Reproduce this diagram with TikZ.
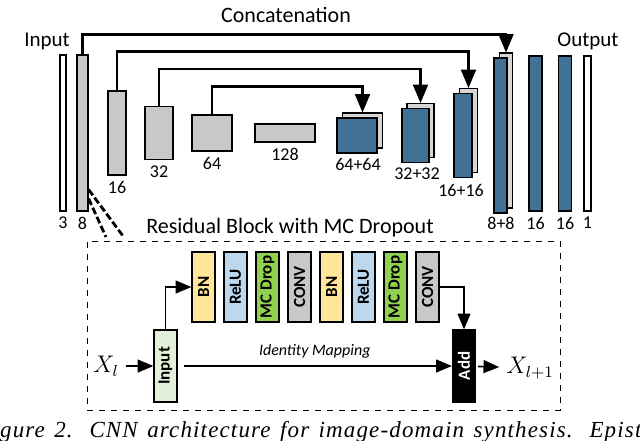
\documentclass[tikz,border=0pt]{standalone}
\usepackage{fontspec}
\setmainfont{Carlito}
\newfontfamily\capfont[LetterSpace=5]{Liberation Serif}
\usetikzlibrary{arrows}
\usetikzlibrary{positioning}
\usetikzlibrary{calc}

\definecolor{bargray}{RGB}{200,200,200}
\definecolor{backgray}{RGB}{214,214,214}
\definecolor{unetblue}{RGB}{66,113,150}
\definecolor{bnyellow}{RGB}{255,230,153}
\definecolor{relublue}{RGB}{189,215,238}
\definecolor{dropgreen}{RGB}{146,208,80}
\definecolor{convgray}{RGB}{200,200,200}
\definecolor{inputgreen}{RGB}{226,240,217}

\begin{document}
\begin{tikzpicture}[x=0.5pt,y=-0.5pt]
    	\tikzstyle{bar} = [draw, line width=0.6pt, fill=bargray, inner sep=0pt]
    	\tikzstyle{bluebar} = [bar, fill=unetblue]
    	\tikzstyle{backbar} = [bar, fill=backgray]
    	\tikzstyle{num} = [inner sep=0.5pt, font=\fontsize{9}{10}\selectfont]
    	\tikzstyle{concat} = [line width=1.1pt, -triangle 45]
    	\tikzstyle{blk} = 
    	[draw,
    	line width=0.7pt,
    	rotate=90,
    	minimum width=35pt,
    	minimum height=11.5pt,
    	inner sep=0pt,
    	font=\bfseries\fontsize{8.5}{9}\selectfont]
    	\tikzstyle{flow} = [line width=0.8pt, -triangle 45]
    	\tikzstyle{wedge} = [line width=1.4pt, dash pattern=on 3.5pt off 1.5pt]

        \useasboundingbox (0,0) rectangle (640,440);

        % encoder
        \node[bar, fill=white, minimum width=3pt, minimum height=78pt] (in3) at (63,133) {};
        \node[bar, minimum width=5.5pt, minimum height=78pt] (b8) at (82.5,133) {};
        \node[bar, minimum width=9pt, minimum height=42pt] (b16) at (117,133) {};
        \node[bar, minimum width=14pt, minimum height=26.5pt] (b32) at (159,133) {};
        \node[bar, minimum width=20pt, minimum height=18pt] (b64) at (212,133) {};
        \node[bar, minimum width=30pt, minimum height=9pt] (b128) at (285,133) {};

        % decoder
        \node[backbar, minimum width=20pt, minimum height=17.5pt] (d64b) at (362.5,130.5) {};
        \node[bluebar, minimum width=20pt, minimum height=17.5pt] (d64) at (357,135.5) {};
        \node[backbar, minimum width=13.5pt, minimum height=27pt] (d32b) at (420.5,130.5) {};
        \node[bluebar, minimum width=13.5pt, minimum height=27pt] (d32) at (415.5,135.5) {};
        \node[backbar, minimum width=9pt, minimum height=42pt] (d16b) at (468.5,130.5) {};
        \node[bluebar, minimum width=9pt, minimum height=42pt] (d16) at (463,135.5) {};
        \node[backbar, minimum width=6.5pt, minimum height=77.5pt] (d8b) at (506,130.5) {};
        \node[bluebar, minimum width=6.5pt, minimum height=77.5pt] (d8) at (500.5,135.5) {};
        \node[bluebar, minimum width=6.5pt, minimum height=77.5pt] (o16a) at (535.5,133.5) {};
        \node[bluebar, minimum width=6.5pt, minimum height=77.5pt] (o16b) at (565,133.5) {};
        \node[bar, fill=white, minimum width=3.5pt, minimum height=77.5pt] (out1) at (587.5,133.5) {};

        % channel numbers
        \node[num, below=2pt of in3] (n3) {3};
        \node[num, below=2pt of b8] (n8) {8};
        \node[num, below=2pt of b16] (n16) {16};
        \node[num, below=2pt of b32] (n32) {32};
        \node[num, below=2pt of b64] (n64) {64};
        \node[num, below=2pt of b128] (n128) {128};
        \node[num] (nd64) at (358,164) {64+64};
        \node[num] (nd32) at (417,174) {32+32};
        \node[num] (nd16) at (461,190) {16+16};
        \node[num] (nd8) at (501,223) {8+8};
        \node[num] (no16a) at (535.5,223) {16};
        \node[num] (no16b) at (565,223) {16};
        \node[num] (no1) at (587.5,223) {1};

        \node[font=\fontsize{10.5}{12}\selectfont] (inlbl) at (47,41) {Input};
        \node[font=\fontsize{10.5}{12}\selectfont] (outlbl) at (588,41) {Output};
        \node[font=\fontsize{11}{13}\selectfont] (catlbl) at (286,15) {Concatenation};

        % skip connections
        \draw[concat] (b8.north) -- ++(0,-20) -| (d8b.north);
        \draw[concat] (b16.north) -- ++(0,-39) -| (d16b.north);
        \draw[concat] (b32.north) -- ++(0,-37) -| (d32b.north);
        \draw[concat] (b64.north) -- ++(0,-28) -| (d64b.north);

        % residual block
        \node[draw, dashed, line width=0.5pt, minimum width=236.5pt, minimum height=84.5pt, inner sep=0pt]
        	(rbox) at (323.5,325.5) {};
        \node[font=\fontsize{11}{13}\selectfont] (rlbl) at (290,228) {Residual Block with MC Dropout};
        \draw[wedge] ($(b8.south east)+(0,-22)$) -- (123,236);
        \draw[wedge] ($(b8.south east)+(0,-13)$) -- (106,237);

        \foreach \t/\c [count=\i] in
        	{BN/bnyellow, ReLU/relublue, MC Drop/dropgreen, CONV/convgray,
        	 BN/bnyellow, ReLU/relublue, MC Drop/dropgreen, CONV/convgray}
        	\node[blk, fill=\c] (r\i) at ({203.5+32*(\i-1)},287) {\t};

        \node[blk, fill=inputgreen, minimum width=36pt] (inp) at (165.5,366) {Input};
        \node[blk, fill=black, text=white, minimum width=36pt] (add) at (464,366) {Add};

        \node[font=\large] (xl) at (106,366) {$X_l$};
        \node[font=\large] (xl1) at (530,368) {$X_{l+1}$};

        \draw[flow] (inp) |- (r1);
        \draw[flow] (r8) -| (add);
        \draw[flow, shorten <=3pt] (inp) -- node[above, font=\itshape\fontsize{8}{10}\selectfont] (idlbl) {Identity Mapping} (add);
        \draw[flow] (xl) -- (inp);
        \draw[flow, shorten <=1pt] (add) -- (xl1);

        % caption
        \node[anchor=base west, inner sep=0pt, font=\capfont\itshape\fontsize{11.5}{13}\selectfont] (cap) at (-23,437)
        	{\makebox[356pt][s]{Figure 2. CNN architecture for image-domain synthesis. Epistemic}};
    \end{tikzpicture}
\end{document}
